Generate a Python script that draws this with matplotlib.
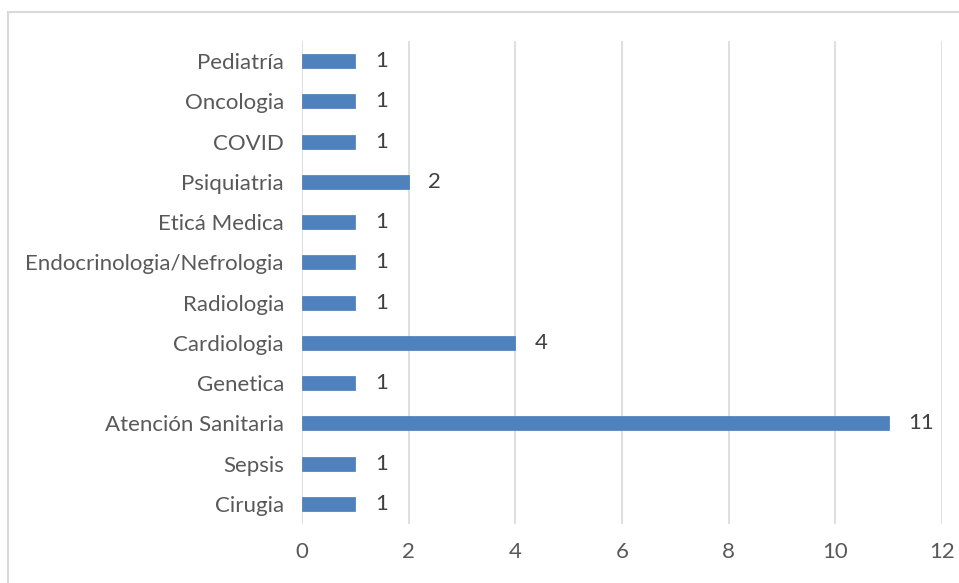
import matplotlib.pyplot as plt
from matplotlib.patches import Rectangle

# categories listed bottom to top
categories = ['Cirugia', 'Sepsis', 'Atención Sanitaria', 'Genetica', 'Cardiologia',
              'Radiologia', 'Endocrinologia/Nefrologia', 'Eticá Medica', 'Psiquiatria',
              'COVID', 'Oncologia', 'Pediatría']
values = [1, 1, 11, 1, 4, 1, 1, 1, 2, 1, 1, 1]
x_ticks = [0, 2, 4, 6, 8, 10, 12]

plt.rcParams['font.family'] = ['Lato', 'DejaVu Sans']
text_color = '#595959'

fig = plt.figure(figsize=(9.59, 5.83), dpi=100)
ax = fig.add_axes([302 / 959, 1 - 524 / 583, 640 / 959, 483 / 583])

# light border around the chart area
fig.patches.append(Rectangle((8 / 959, -0.1), 1.1, 1 - 12 / 583 + 0.1,
                             transform=fig.transFigure, fill=False,
                             edgecolor='#d9d9d9', linewidth=1.5))

pos = list(range(len(categories)))
ax.barh(pos, values, height=0.35, color='#4f81bd', edgecolor='#4a7ab5', linewidth=0.5, zorder=3)
for p, v in zip(pos, values):
    ax.text(v + 0.37, p, str(v), va='center', ha='left', fontsize=16, color='#404040')

ax.set_xlim(0, 12)
ax.set_ylim(-0.5, len(categories) - 0.5)
ax.set_xticks(x_ticks)
ax.set_yticks(pos)
ax.set_yticklabels(categories)
ax.grid(axis='x', color='#d9d9d9', linewidth=1.2, zorder=0)
for s in ax.spines.values():
    s.set_visible(False)
ax.tick_params(axis='both', length=0, labelsize=16, labelcolor=text_color)
ax.tick_params(axis='y', pad=13)
ax.tick_params(axis='x', pad=13)

fig.savefig('out.png', dpi=100)
